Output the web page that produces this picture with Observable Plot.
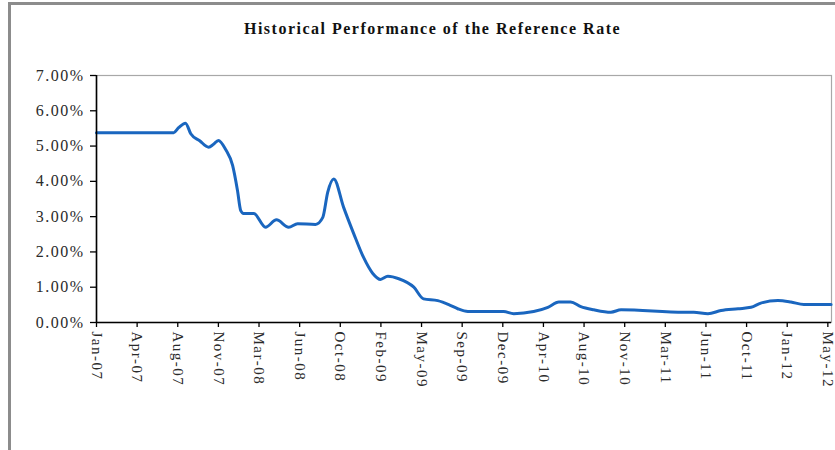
<!DOCTYPE html>
<html>
<head>
<meta charset="utf-8">
<script src="https://cdn.jsdelivr.net/npm/d3@7"></script>
<script src="https://cdn.jsdelivr.net/npm/@observablehq/plot@0.6"></script>
<style>
  html, body { margin: 0; padding: 0; background: #fff; }
  #wrap { position: relative; width: 835px; height: 450px; overflow: hidden; background: #fff; }
  #frame { position: absolute; left: 8px; top: 2px; width: 840px; height: 460px;
           border-top: 3px solid #8c8c8c; border-left: 3px solid #8c8c8c; box-sizing: border-box; }
  #title { position: absolute; left: 15px; top: 20px; width: 835px; text-align: center;
           font-family: "Liberation Serif", "Times New Roman", serif; font-weight: bold;
           font-size: 16px; line-height: 18px; letter-spacing: 1.5px; color: #111; }
  #chart { position: absolute; left: 0; top: 0; }
  #chart svg text { font-family: "Liberation Serif", "Times New Roman", serif !important; }
  g[aria-label="x-axis tick label"] text { font-size: 15px !important; letter-spacing: 1.5px; }
  g[aria-label="y-axis tick label"] text { font-size: 16px !important; letter-spacing: 1.5px; }
</style>
</head>
<body>
<div id="wrap">
  <div id="frame"></div>
  <div id="chart"></div>
  <div id="title">Historical Performance of the Reference Rate</div>
</div>
<script>
// Tick labels (evenly spaced category ticks on the x axis, index 0..18)
const tickLabels = ["Jan-07","Apr-07","Aug-07","Nov-07","Mar-08","Jun-08","Oct-08","Feb-09","May-09",
  "Sep-09","Dec-09","Apr-10","Aug-10","Nov-10","Mar-11","Jun-11","Oct-11","Jan-12","May-12"];

// Position of each reading, in tick-interval units (0 = Jan-07, 18 = May-12)
const position = [0, 1.90, 2.02, 2.19, 2.32, 2.54, 2.76, 2.88, 3.00, 3.18, 3.35, 3.47, 3.55, 3.62, 3.87,
  4.16, 4.43, 4.73, 4.95, 5.39, 5.57, 5.69, 5.84, 6.08, 6.33, 6.57, 6.80, 6.99, 7.17, 7.44, 7.81, 8.05,
  8.40, 8.72, 8.89, 9.14, 10.02, 10.27, 10.76, 11.11, 11.38, 11.67, 11.92, 12.24, 12.66, 12.91, 14.46,
  14.70, 15.05, 15.37, 15.79, 16.11, 16.35, 16.77, 17.09, 17.41, 18.08];

// Reference rate, percent
const rate = [5.38, 5.38, 5.52, 5.65, 5.35, 5.15, 4.97, 5.05, 5.16, 4.90, 4.45, 3.74, 3.17, 3.09, 3.09,
  2.70, 2.91, 2.70, 2.80, 2.78, 2.98, 3.69, 4.07, 3.27, 2.52, 1.85, 1.39, 1.22, 1.31, 1.24, 1.00, 0.67,
  0.62, 0.48, 0.39, 0.31, 0.31, 0.25, 0.31, 0.43, 0.58, 0.58, 0.45, 0.36, 0.29, 0.36, 0.29,
  0.29, 0.25, 0.34, 0.39, 0.43, 0.55, 0.62, 0.58, 0.51, 0.51];

const yTicks = [0, 1, 2, 3, 4, 5, 6, 7];

const data = position.map((t, i) => ({t, v: rate[i]}));
const fmt = d3.format(".2%");

const chart = Plot.plot({
  width: 835,
  height: 450,
  marginLeft: 96,
  marginRight: 4,
  marginTop: 75,
  marginBottom: 128,
  style: {fontFamily: "Liberation Serif, serif", fontSize: "15px", color: "#222", background: "transparent"},
  x: {type: "linear", domain: [0, 18.09]},
  y: {domain: [0, 7]},
  marks: [
    Plot.frame({stroke: "#a8a8a8", strokeWidth: 1.2}),
    Plot.axisY({ticks: yTicks, tickFormat: d => fmt(d / 100), tickSize: 6, tickPadding: 6, label: null,
      stroke: "#000", strokeWidth: 1.3, fill: "#2a2a2a"}),
    Plot.axisX({ticks: d3.range(tickLabels.length), tickFormat: i => tickLabels[i], tickRotate: 90,
      tickSize: 5, tickPadding: 4, label: null, stroke: "#000", strokeWidth: 1.3, fill: "#2a2a2a"}),
    Plot.line(data, {x: "t", y: "v", stroke: "#1a66bf", strokeWidth: 3, curve: "monotone-x"}),
    Plot.ruleX([0], {stroke: "#000", strokeWidth: 1.6}),
    Plot.ruleY([0], {stroke: "#000", strokeWidth: 1.6})
  ]
});
document.getElementById("chart").appendChild(chart);
</script>
</body>
</html>
